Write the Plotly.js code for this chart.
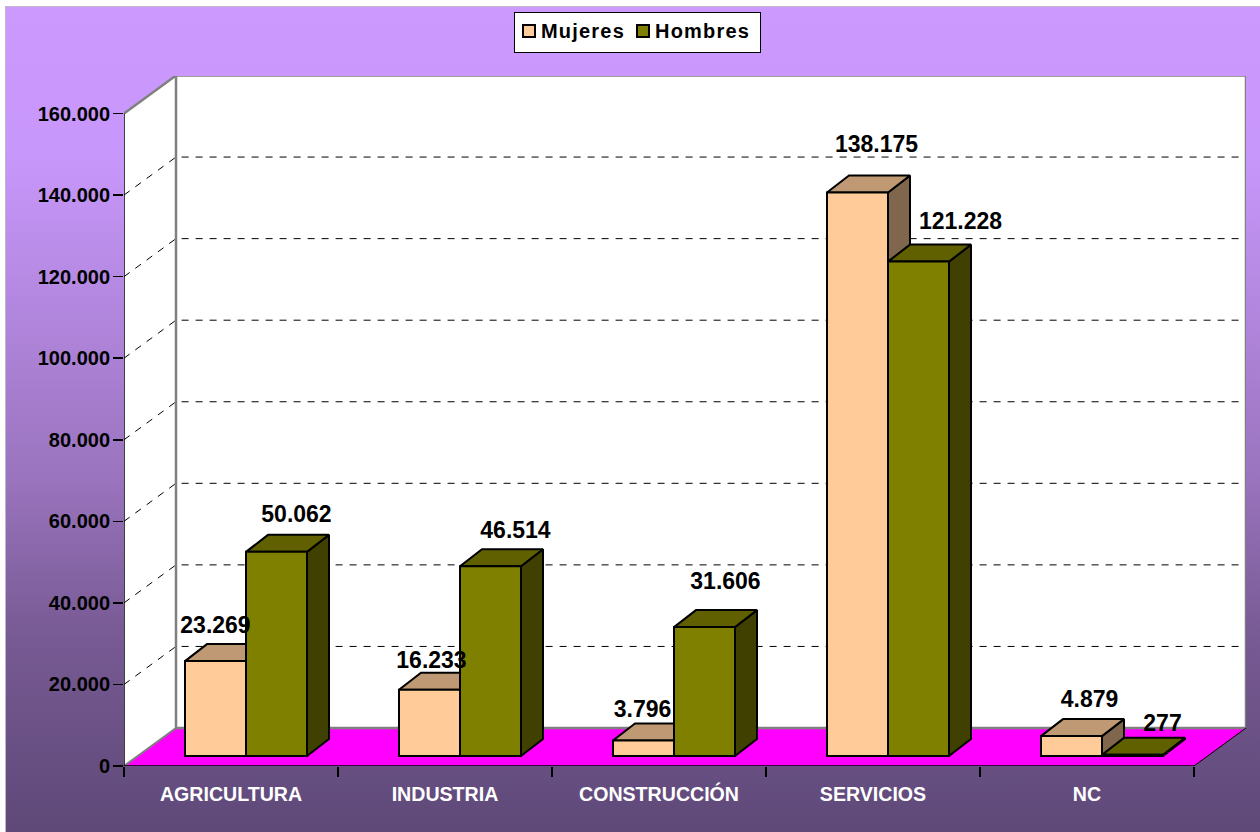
<!DOCTYPE html>
<html><head><meta charset="utf-8">
<script src="https://cdn.plot.ly/plotly-3.0.1.min.js"></script>
<style>
html,body{margin:0;padding:0;background:#fff;width:1260px;height:832px;overflow:hidden}
#bg{position:absolute;left:5px;top:6px;right:0;bottom:0;border-left:1px solid #C0B8C8;border-top:1px solid #C0B8C8;
background:linear-gradient(180deg,#CC99FF 0%,#C897FB 18%,#9A74BE 57%,#785A94 76%,#5E4978 100%)}
#chart{position:absolute;left:0;top:0;width:1260px;height:832px}
.legendtext{letter-spacing:1.2px;transform:translate(-14px,-2px)}
.legendpoints{transform:translate(-6px,-1px)}
.legend .traces:nth-child(2) .legendtext{transform:translate(-22.5px,-2px)}
.legend .traces:nth-child(2) .legendpoints{transform:translate(-14.5px,-1px)}
</style></head><body>
<div id="bg"></div><div id="chart"></div>
<script>
// Data
const categories = ['AGRICULTURA','INDUSTRIA','CONSTRUCCIÓN','SERVICIOS','NC'];
const mujeres = [23269,16233,3796,138175,4879];
const hombres = [50062,46514,31606,121228,277];
const yTicks = [0,20000,40000,60000,80000,100000,120000,140000,160000];
const yTickText = ['0','20.000','40.000','60.000','80.000','100.000','120.000','140.000','160.000'];
const mujeresLabels = ['23.269','16.233','3.796','138.175','4.879'];
const hombresLabels = ['50.062','46.514','31.606','121.228','277'];
// Label nudges in pixels, relative to the front-face centre / top of each bar
const mujeresNudgeX = [0,2,-1,19,18], mujeresNudgeY = [17,11,12,29,18];
const hombresNudgeX = [20,25,21,42,30], hombresNudgeY = [19,17,27,21,13];

// Projection geometry, in pixels
const W=1260,H=832,L=124,BOT=766,TOP=76,R=1246;
const CAT=214, UNIT=652.5/160000;
const xMax=(R-L)/CAT, yMax=(BOT-TOP)/UNIT;
const px=p=>p/CAT, pv=p=>p/UNIT;
const WALL_X=px(52), WALL_Y=pv(38);
const D0X=px(14), D0Y=pv(10), D1X=px(36), D1Y=pv(27);
const GAP=47/CAT, BW=61/CAT;

const traces=[];
function poly(xs,ys,fill,line,lw){
  traces.push({type:'scatter',mode:'lines',x:[...xs,xs[0]],y:[...ys,ys[0]],fill:'toself',fillcolor:fill,
    line:{color:line,width:lw},showlegend:false,hoverinfo:'skip',cliponaxis:false});
}
function seg(xs,ys,color,w,dash){
  traces.push({type:'scatter',mode:'lines',x:xs,y:ys,line:{color:color,width:w,dash:dash||'solid'},
    showlegend:false,hoverinfo:'skip',cliponaxis:false});
}
const n=categories.length, topV=yTicks[yTicks.length-1];
// Walls and floor
poly([0,WALL_X,WALL_X,0],[0,WALL_Y,WALL_Y+topV,topV],'#FFFFFF','rgba(0,0,0,0)',0);
poly([WALL_X,WALL_X+n,WALL_X+n,WALL_X],[WALL_Y,WALL_Y,WALL_Y+topV,WALL_Y+topV],'#FFFFFF','rgba(0,0,0,0)',0);
// Gridlines
yTicks.slice(1,-1).forEach(v=>{
  seg([0,WALL_X,WALL_X+n],[v,v+WALL_Y,v+WALL_Y],'#000000',1,'7px,7px');
});
poly([0,WALL_X,WALL_X+n,n],[0,WALL_Y,WALL_Y,0],'#FF00FF','rgba(0,0,0,0)',0);
// Wall edges
seg([0,WALL_X,WALL_X,WALL_X+n,WALL_X+n,WALL_X,WALL_X],[topV,topV+WALL_Y,WALL_Y,WALL_Y,WALL_Y+topV,WALL_Y+topV,WALL_Y],'#808080',2.5);
seg([0,WALL_X],[0,WALL_Y],'#808080',2);
seg([n,WALL_X+n],[0,WALL_Y],'#000000',1);
seg([0,0],[0,topV],'#000000',1.5);
seg([0,n],[0,0],'#000000',1.5);

function box3d(i,offset,v,cTop,cSide){
  const x0=i+GAP+D0X+offset*BW, x1=x0+BW, dx=D1X-D0X;
  poly([x1,x1+dx,x1+dx,x1],[D0Y,D1Y,D1Y+v,D0Y+v],cSide,'#000000',2);
  poly([x0,x1,x1+dx,x0+dx],[D0Y+v,D0Y+v,D1Y+v,D1Y+v],cTop,'#000000',2);
}
categories.forEach((c,i)=>box3d(i,0,mujeres[i],'#BF9973','#80664D'));
categories.forEach((c,i)=>box3d(i,1,hombres[i],'#606000','#404000'));

// Front faces as real bars on an overlaid subplot
function front(name,vals,offset,color){
  traces.push({type:'bar',name:name,xaxis:'x2',yaxis:'y2',
    x:vals.map((v,i)=>i+GAP+D0X+(offset+0.5)*BW),y:vals,base:vals.map(()=>D0Y),width:vals.map(()=>BW),
    marker:{color:color,line:{color:'#000000',width:2}},hoverinfo:'skip'});
}
front('Mujeres',mujeres,0,'#FFCC99');
front('Hombres',hombres,1,'#808000');

// Data labels
function labels(vals,txt,offset,nx,ny){
  traces.push({type:'scatter',mode:'text',xaxis:'x2',yaxis:'y2',showlegend:false,hoverinfo:'skip',cliponaxis:false,
    x:vals.map((v,i)=>i+GAP+D0X+(offset+0.5)*BW+px(nx[i])),
    y:vals.map((v,i)=>v+D1Y+pv(ny[i])),
    text:txt,textposition:'middle center',
    textfont:{family:'"Liberation Sans",Arial,sans-serif',size:23,color:'#000000',weight:700}});
}
labels(mujeres,mujeresLabels,0,mujeresNudgeX,mujeresNudgeY);
labels(hombres,hombresLabels,1,hombresNudgeX,hombresNudgeY);

const layout={
  width:W,height:H,autosize:false,
  margin:{l:L,r:W-R,t:TOP,b:H-BOT,pad:0},
  paper_bgcolor:'rgba(0,0,0,0)',plot_bgcolor:'rgba(0,0,0,0)',
  barmode:'overlay',hovermode:false,dragmode:false,showlegend:true,
  font:{family:'"Liberation Sans",Arial,sans-serif',color:'#000000'},
  xaxis:{range:[0,xMax],showgrid:false,zeroline:false,showline:false,
    tickmode:'array',tickvals:categories.map((c,i)=>i+0.5),ticktext:categories,ticks:'',
    ticklabelstandoff:14,
    tickfont:{size:19.6,color:'#FFFFFF',weight:700,family:'"Liberation Sans",Arial,sans-serif'},
    minor:{tickmode:'linear',tick0:0,dtick:1,ticks:'outside',ticklen:10,tickwidth:1.5,tickcolor:'#000000',showgrid:false}},
  yaxis:{range:[0,yMax],showgrid:false,zeroline:false,showline:false,
    tickmode:'array',tickvals:yTicks,ticktext:yTickText,ticks:'outside',ticklen:10,tickwidth:1.5,tickcolor:'#000000',
    ticklabelstandoff:-1,
    tickfont:{size:20,color:'#000000',weight:700,family:'"Liberation Sans",Arial,sans-serif'}},
  xaxis2:{range:[0,xMax],overlaying:'x',visible:false},
  yaxis2:{range:[0,yMax],overlaying:'y',visible:false},
  legend:{orientation:'h',xref:'container',yref:'container',x:514/W,y:1-11.5/H,xanchor:'left',yanchor:'top',
    bgcolor:'#FFFFFF',bordercolor:'#000000',borderwidth:1,entrywidthmode:'pixels',entrywidth:77.5,
    font:{size:20,weight:700,color:'#000000',family:'"Liberation Sans",Arial,sans-serif'},
    itemclick:false,itemdoubleclick:false}
};
Plotly.newPlot('chart',traces,layout,{displayModeBar:false,staticPlot:true});
</script></body></html>
